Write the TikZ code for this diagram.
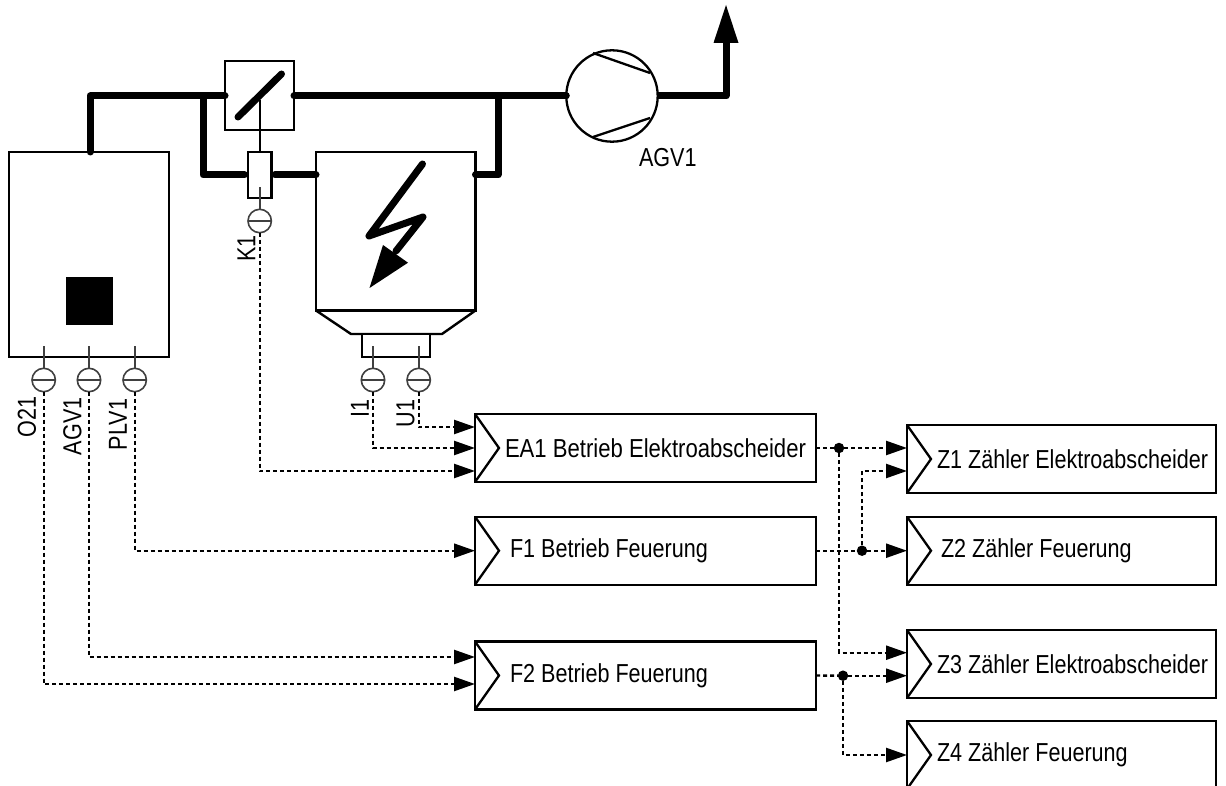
\documentclass[tikz,border=0pt]{standalone}
\usepackage{fontspec}
\setmainfont[FakeStretch=0.83]{Liberation Sans}
\newfontfamily\eafont[FakeStretch=0.85]{Liberation Sans}
\usetikzlibrary{arrows.meta}
\tikzset{
  pipe/.style={line width=7pt,line join=round,line cap=round},
  framebox/.style={draw=black,line width=2.4pt,fill=white,rectangle,inner sep=0pt,outer sep=0pt,anchor=north west},
  funcbox/.style={framebox,minimum height=68pt},
  chev/.style={line width=2.3pt,line join=miter},
  thinline/.style={line width=1.6pt,draw=black!75},
  sensor/.style={circle,draw=black!75,line width=1.6pt,fill=white,minimum size=23.4pt,inner sep=0pt,outer sep=0pt},
  sig/.style={line width=2.4pt,dash pattern=on 4pt off 3pt},
  sigarrow/.style={sig,-{Triangle[length=21pt,width=14pt,sharp]}},
  jdot/.style={circle,fill=black,minimum size=10.5pt,inner sep=0pt,outer sep=0pt},
  lbl/.style={font=\fontsize{26}{26}\selectfont,inner sep=0pt,outer sep=0pt,text=black},
}
\newcommand{\sensorbar}[1]{\draw[thinline] (#1.west) -- (#1.east);}
\begin{document}
\begin{tikzpicture}[x=1pt,y=-1pt]
\useasboundingbox (0,0) rectangle (1226,786);
\clip (0,0) rectangle (1226,786);
\fill[white] (0,0) rectangle (1226,786);

\coordinate (topL) at (90,96);
\coordinate (byL) at (203,96);
\coordinate (byLb) at (203,175);
\coordinate (byR) at (498,96);
\coordinate (byRb) at (498,175);
\coordinate (stackC) at (726,96);
\coordinate (stackT) at (726,5);

% hopper under the precipitator
\draw[line width=2.4pt,line join=miter] (316,310.5) -- (351,334) -- (442,334) -- (475.5,310.5);

% boxes
\node[framebox,minimum width=160pt,minimum height=205pt] (boiler) at (9,152) {};
\node[framebox,minimum width=69pt,minimum height=69pt] (damper) at (225,61) {};
\node[framebox,minimum width=23.5pt,minimum height=46pt] (valve) at (248,152) {};
\node[framebox,minimum width=159.5pt,minimum height=158.5pt] (esp) at (316,152) {};
\node[circle,draw=black,line width=2.3pt,fill=white,minimum size=91.4pt,inner sep=0pt,outer sep=0pt] (fan) at (612,96) {};

% main gas line
\draw[pipe] (boiler.north -| topL) -- (topL) -- (topL -| damper.west);
\draw[pipe] (damper.east |- topL) -- (fan.west);
\draw[pipe,shorten >=3.5pt] (byL) -- (byLb) -- (valve.west);
\draw[pipe,shorten <=3.5pt] (valve.east) -- (esp.west |- valve.east);
\draw[pipe] (esp.east |- valve.east) -- (byRb) -- (byR);
\draw[pipe,line cap=butt] (fan.east) -- (stackC) -- (726,40);
\fill (726,5) -- (738.5,43) -- (713.5,43) -- cycle;

% damper blade
\draw[line width=7pt,line cap=round] (238,117) -- (281.5,74);
% fan blades
\draw[line width=2.3pt] (593,53) -- (650,73);
\draw[line width=2.3pt] (593,137) -- (650,118);

% boiler square
\fill (66,277) rectangle (113,325);

% lightning
\draw[line width=7pt,line cap=round,line join=round] (422.5,164) -- (369,236) -- (423,217) -- (396,251);
\fill (369.5,288) -- (383,245) -- (408,262.7) -- cycle;

% flange
\node[framebox,minimum width=68.5pt,minimum height=23pt] (flange) at (361.7,334) {};

% sensors
\node[sensor] (sO) at (43.7,380) {};
\node[sensor] (sA) at (89,380) {};
\node[sensor] (sP) at (134.7,380) {};
\node[sensor] (sK) at (259.7,221) {};
\node[sensor] (sI) at (373,380) {};
\node[sensor] (sU) at (418.7,380) {};
\foreach \s in {sO,sA,sP,sK,sI,sU} {\sensorbar{\s}}

% stems
\draw[thinline] (sO.north) -- ++(0,-22.5);
\draw[thinline] (sA.north) -- ++(0,-22.5);
\draw[thinline] (sP.north) -- ++(0,-22.5);
\draw[thinline] (sI.north) -- ++(0,-22);
\draw[thinline] (sU.north) -- ++(0,-22);
\draw[thinline] (sK.north) -- ++(0,-22.5);
\draw[line width=1.7pt] (valve.north) -- ++(0,-52);

% function boxes
\node[funcbox,minimum width=341pt] (EA) at (475,414) {};
\node[funcbox,minimum width=341pt] (Fa) at (475,516.7) {};
\node[funcbox,minimum width=341pt] (Fb) at (475,641.5) {};
\node[funcbox,minimum width=309pt] (Za) at (907,425) {};
\node[funcbox,minimum width=309pt] (Zb) at (907,516.7) {};
\node[funcbox,minimum width=309pt] (Zc) at (907,630) {};
\node[funcbox,minimum width=309pt] (Zd) at (907,721) {};
\foreach \b in {EA,Fa,Fb,Za,Zb,Zc,Zd} {
  \draw[chev] (\b.north west) -- ([xshift=24pt]\b.west) -- (\b.south west);
}

% entry coordinates
\coordinate (EAu) at (475,427);
\coordinate (EAi) at (475,448);
\coordinate (EAk) at (475,471);
\coordinate (Fbu) at (475,657);
\coordinate (Fbo) at (475,684);
\coordinate (Zau) at (907,448);
\coordinate (Zal) at (907,471);
\coordinate (Zcu) at (907,652.7);
\coordinate (Zcl) at (907,675.7);
\coordinate (Zbi) at (907,550.7);
\coordinate (Zdi) at (907,755);

% junctions
\node[jdot] (j1) at (839,448) {};
\node[jdot] (j2) at (862,550.7) {};
\node[jdot] (j3) at (843,675.7) {};

% signal lines
\draw[sigarrow] (sU.south) |- (EAu);
\draw[sigarrow] (sI.south) |- (EAi);
\draw[sigarrow] (sK.south) |- (EAk);
\draw[sigarrow] (sP.south) |- (Fa.west);
\draw[sigarrow] (sA.south) |- (Fbu);
\draw[sigarrow] (sO.south) |- (Fbo);
\draw[sig] (EAi -| EA.east) -- (j1);
\draw[sigarrow] (j1) -- (Zau);
\draw[sigarrow] (j1) |- (Zcu);
\draw[sig] (Fa.east) -- (j2);
\draw[sigarrow] (j2) -- (Zbi);
\draw[sigarrow] (j2) |- (Zal);
\draw[sig] (Fb.east) -- (j3);
\draw[sigarrow] (j3) -- (Zcl);
\draw[sigarrow] (j3) |- (Zdi);

% texts
\node[lbl,anchor=west] (tFan) at (639,158) {AGV1};
\node[lbl,anchor=west,rotate=90] (tO) at (27,437) {O21};
\node[lbl,anchor=west,rotate=90] (tA) at (72.5,455) {AGV1};
\node[lbl,anchor=west,rotate=90] (tP) at (118,450) {PLV1};
\node[lbl,anchor=west,rotate=90] (tK) at (246.5,262) {K1};
\node[lbl,anchor=west,rotate=90] (tI) at (360,417) {I1};
\node[lbl,anchor=west,rotate=90] (tU) at (405.5,427) {U1};
\node[lbl,anchor=west,font=\fontsize{26}{26}\selectfont\eafont] (tEA) at (505,448) {EA1 Betrieb Elektroabscheider};
\node[lbl,anchor=west] (tFa) at (510,550.7) {F1 Betrieb Feuerung};
\node[lbl,anchor=west] (tFb) at (510,675.5) {F2 Betrieb Feuerung};
\node[lbl,anchor=west] (tZa) at (937,459) {Z1 Zähler Elektroabscheider};
\node[lbl,anchor=west] (tZb) at (941,550.7) {Z2 Zähler Feuerung};
\node[lbl,anchor=west] (tZc) at (937,664) {Z3 Zähler Elektroabscheider};
\node[lbl,anchor=west] (tZd) at (937,755) {Z4 Zähler Feuerung};
\end{tikzpicture}
\end{document}
